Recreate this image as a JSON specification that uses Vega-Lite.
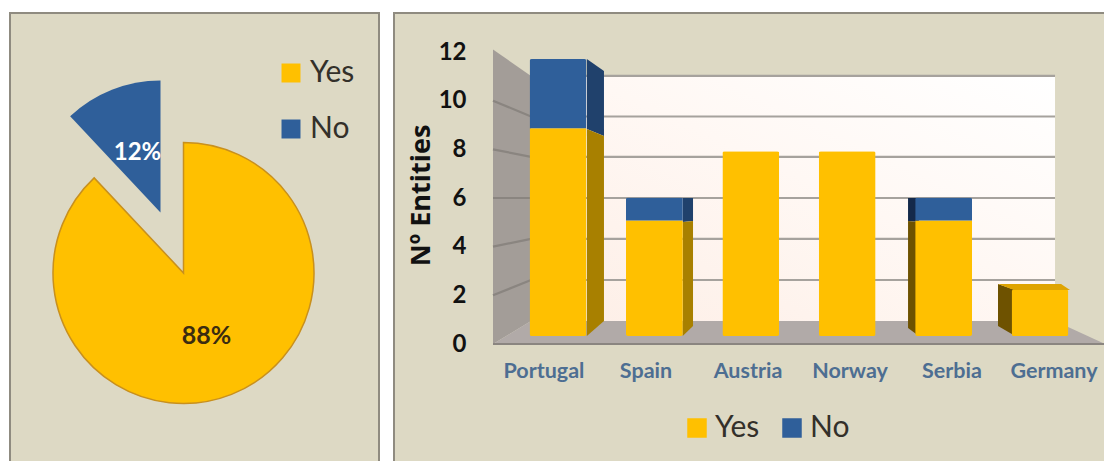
{
  "$schema": "https://vega.github.io/schema/vega-lite/v6.json",
  "background": "#ffffff",
  "padding": {"left": 9, "top": 12, "right": 0, "bottom": 0},
  "spacing": 13,
  "config": {"font": "Lato", "style": {"cell": {"fill": "#ddd9c4", "stroke": "#8f8b80", "strokeWidth": 2}}},
  "datasets": {
    "adoption": [
      {"answer": "Yes", "share": 0.88},
      {"answer": "No", "share": 0.12}
    ],
    "entities": [
      {"country": "Portugal", "answer": "Yes", "count": 9},
      {"country": "Portugal", "answer": "No", "count": 3},
      {"country": "Spain", "answer": "Yes", "count": 5},
      {"country": "Spain", "answer": "No", "count": 1},
      {"country": "Austria", "answer": "Yes", "count": 8},
      {"country": "Norway", "answer": "Yes", "count": 8},
      {"country": "Serbia", "answer": "Yes", "count": 5},
      {"country": "Serbia", "answer": "No", "count": 1},
      {"country": "Germany", "answer": "Yes", "count": 2}
    ],
    "room": [
      {"face": "back", "tone": "back", "slot": 0.373, "high": 11.015, "low": 0.945},
      {"face": "back", "tone": "back", "slot": 5.51, "high": 11.015, "low": 0.945},
      {"face": "wall", "tone": "wall", "slot": 0, "high": 12.1, "low": 0},
      {"face": "wall", "tone": "wall", "slot": 0.373, "high": 11.015, "low": 0.945},
      {"face": "floor", "tone": "floor", "slot": 0, "high": 0, "low": 0},
      {"face": "floor", "tone": "floor", "slot": 0.373, "high": 0.945, "low": 0},
      {"face": "floor", "tone": "floor", "slot": 5.51, "high": 0.945, "low": 0},
      {"face": "floor", "tone": "floor", "slot": 6, "high": 0, "low": 0}
    ],
    "gridlines": [
      {"line": "wall 2", "part": "wall", "slot": 0, "level": 2},
      {"line": "wall 2", "part": "wall", "slot": 0.373, "level": 2.63},
      {"line": "wall 4", "part": "wall", "slot": 0, "level": 4},
      {"line": "wall 4", "part": "wall", "slot": 0.373, "level": 4.32},
      {"line": "wall 6", "part": "wall", "slot": 0, "level": 6},
      {"line": "wall 6", "part": "wall", "slot": 0.373, "level": 6},
      {"line": "wall 8", "part": "wall", "slot": 0, "level": 8},
      {"line": "wall 8", "part": "wall", "slot": 0.373, "level": 7.69},
      {"line": "wall 10", "part": "wall", "slot": 0, "level": 10},
      {"line": "wall 10", "part": "wall", "slot": 0.373, "level": 9.35},
      {"line": "back 2", "part": "back", "slot": 0.373, "level": 2.63},
      {"line": "back 2", "part": "back", "slot": 5.51, "level": 2.63},
      {"line": "back 4", "part": "back", "slot": 0.373, "level": 4.32},
      {"line": "back 4", "part": "back", "slot": 5.51, "level": 4.32},
      {"line": "back 6", "part": "back", "slot": 0.373, "level": 6},
      {"line": "back 6", "part": "back", "slot": 5.51, "level": 6},
      {"line": "back 8", "part": "back", "slot": 0.373, "level": 7.69},
      {"line": "back 8", "part": "back", "slot": 5.51, "level": 7.69},
      {"line": "back 10", "part": "back", "slot": 0.373, "level": 9.35},
      {"line": "back 10", "part": "back", "slot": 5.51, "level": 9.35},
      {"line": "back 12", "part": "back", "slot": 0.373, "level": 11.015},
      {"line": "back 12", "part": "back", "slot": 5.51, "level": 11.015},
      {"line": "edge", "part": "wall", "slot": 0, "level": 0},
      {"line": "edge", "part": "wall", "slot": 6, "level": 0}
    ],
    "extrusion": [
      {"face": "portugal-no", "tone": "noSide", "slot": 0.92, "high": 11.714, "low": 8.837},
      {"face": "portugal-no", "tone": "noSide", "slot": 1.088, "high": 11.221, "low": 8.549},
      {"face": "portugal-yes", "tone": "yesSide", "slot": 0.92, "high": 8.837, "low": 0.329},
      {"face": "portugal-yes", "tone": "yesSide", "slot": 1.088, "high": 8.549, "low": 0.945},
      {"face": "spain-no", "tone": "noSide", "slot": 1.86, "high": 6.0, "low": 5.014},
      {"face": "spain-no", "tone": "noSide", "slot": 1.961, "high": 6.0, "low": 5.055},
      {"face": "spain-yes", "tone": "yesSide", "slot": 1.86, "high": 5.014, "low": 0.329},
      {"face": "spain-yes", "tone": "yesSide", "slot": 1.961, "high": 5.055, "low": 0.74},
      {"face": "serbia-no", "tone": "noShade", "slot": 4.069, "high": 6.0, "low": 5.055},
      {"face": "serbia-no", "tone": "noShade", "slot": 4.175, "high": 6.0, "low": 5.014},
      {"face": "serbia-yes", "tone": "yesShade", "slot": 4.069, "high": 5.055, "low": 0.658},
      {"face": "serbia-yes", "tone": "yesShade", "slot": 4.175, "high": 5.014, "low": 0.329},
      {"face": "germany-side", "tone": "yesShade", "slot": 4.951, "high": 2.466, "low": 0.74},
      {"face": "germany-side", "tone": "yesShade", "slot": 5.12, "high": 2.219, "low": 0.329},
      {"face": "germany-top", "tone": "yesTop", "slot": 4.951, "high": 2.466, "low": 2.466},
      {"face": "germany-top", "tone": "yesTop", "slot": 5.108, "high": 2.466, "low": 2.219},
      {"face": "germany-top", "tone": "yesTop", "slot": 5.569, "high": 2.466, "low": 2.219},
      {"face": "germany-top", "tone": "yesTop", "slot": 5.657, "high": 2.219, "low": 2.219}
    ]
  },
  "resolve": {"scale": {"color": "independent"}, "legend": {"color": "independent"}},
  "hconcat": [
    {
      "width": 369,
      "height": 449,
      "data": {"name": "adoption"},
      "transform": [{"stack": "share", "as": ["share0", "share1"], "groupby": []}],
      "view": {"fill": "#ddd9c4", "stroke": "#8f8b80", "strokeWidth": 2},
      "layer": [
        {
          "mark": {"type": "rule", "opacity": 0},
          "encoding": {
            "x": {"field": "share", "type": "quantitative", "axis": null},
            "y": {"field": "share", "type": "quantitative", "axis": null}
          }
        },
        {
          "transform": [{"filter": "datum.answer === 'Yes'"}],
          "mark": {"type": "arc", "outerRadius": 130.5, "xOffset": -11, "yOffset": 35.5, "stroke": "#c8901e", "strokeWidth": 1.5},
          "encoding": {
            "theta": {"field": "share0", "type": "quantitative", "scale": {"domain": [0, 1]}},
            "theta2": {"field": "share1"},
            "color": {
              "field": "answer", "type": "nominal",
              "scale": {"domain": ["Yes", "No"], "range": ["#ffc000", "#2f5f9a"]},
              "legend": {
                "title": null, "orient": "none", "legendX": 266, "legendY": 45,
                "symbolType": "square", "symbolSize": 360, "labelFontSize": 30, "labelColor": "#33302a",
                "labelOffset": 4, "rowPadding": 26, "symbolStrokeWidth": 0, "padding": 0
              }
            }
          }
        },
        {
          "transform": [{"filter": "datum.answer === 'No'"}],
          "mark": {"type": "arc", "outerRadius": 132, "xOffset": -34, "yOffset": -25},
          "encoding": {
            "theta": {"field": "share0", "type": "quantitative", "scale": {"domain": [0, 1]}},
            "theta2": {"field": "share1"},
            "color": {"value": "#2f5f9a"}
          }
        },
        {
          "transform": [{"filter": "datum.answer === 'Yes'"}],
          "mark": {"type": "text", "fontSize": 25, "fontWeight": "bold", "color": "#3b2c10", "xOffset": 12, "yOffset": 98.5},
          "encoding": {"text": {"field": "share", "type": "quantitative", "format": ".0%"}}
        },
        {
          "transform": [{"filter": "datum.answer === 'No'"}],
          "mark": {"type": "text", "fontSize": 24, "fontWeight": "bold", "color": "#ffffff", "xOffset": -57, "yOffset": -84.5},
          "encoding": {"text": {"field": "share", "type": "quantitative", "format": ".0%"}}
        }
      ]
    },
    {
      "width": 711,
      "height": 449,
      "resolve": {
        "scale": {"x": "independent", "y": "independent", "color": "independent"},
        "axis": {"x": "independent", "y": "independent"}
      },
      "layer": [
        {
          "data": {"name": "entities"},
          "mark": {"type": "bar", "opacity": 0},
          "encoding": {
            "x": {
              "field": "country", "type": "nominal",
              "sort": ["Portugal", "Spain", "Austria", "Norway", "Serbia", "Germany"],
              "scale": {"range": [99, 711], "padding": 0},
              "axis": {
                "title": null, "orient": "bottom", "offset": -118, "domain": false, "ticks": false,
                "labelAngle": 0, "labelFontSize": 21.5, "labelColor": "#4d6e92", "labelPadding": 16,
                "labelFontWeight": "bold", "grid": false
              }
            }
          }
        },
        {
          "data": {"name": "room"},
          "transform": [{"filter": "datum.tone === 'back'"}],
          "mark": {
            "type": "area", "orient": "vertical",
            "fill": {"gradient": "linear", "x1": 0, "y1": 1, "x2": 1, "y2": 0,
              "stops": [{"offset": 0, "color": "#fdeee6"}, {"offset": 0.55, "color": "#fff8f4"}, {"offset": 1, "color": "#ffffff"}]}
          },
          "encoding": {
            "x": {"field": "slot", "type": "quantitative", "scale": {"domain": [0, 6], "range": [99, 711], "nice": false, "zero": false}, "axis": null},
            "y": {"field": "high", "type": "quantitative", "stack": null, "scale": {"domain": [0, 12], "range": [331, 39], "nice": false}, "axis": null},
            "y2": {"field": "low"}
          }
        },
        {
          "data": {"name": "room"},
          "transform": [{"filter": "datum.tone !== 'back'"}],
          "mark": {"type": "area", "orient": "vertical"},
          "encoding": {
            "x": {"field": "slot", "type": "quantitative", "scale": {"domain": [0, 6], "range": [99, 711], "nice": false, "zero": false}, "axis": null},
            "y": {
              "field": "high", "type": "quantitative", "stack": null,
              "scale": {"domain": [0, 12], "range": [331, 39], "nice": false},
              "axis": {
                "title": "Nº Entities", "orient": "left", "offset": -99, "values": [0, 2, 4, 6, 8, 10, 12],
                "domain": false, "ticks": false, "grid": false, "labelPadding": 27, "labelFontSize": 24,
                "labelColor": "#111111", "labelFontWeight": "bold",
                "titleFont": "Open Sans", "titleFontSize": 27, "titleFontWeight": "bold", "titleColor": "#111111", "titleX": -58, "titleY": 182
              }
            },
            "y2": {"field": "low"},
            "detail": {"field": "face"},
            "color": {"field": "tone", "type": "nominal", "scale": {"domain": ["wall", "floor"], "range": ["#a39d98", "#b1aaa8"]}, "legend": null}
          }
        },
        {
          "data": {"name": "gridlines"},
          "mark": {"type": "line", "strokeWidth": 2.2},
          "encoding": {
            "x": {"field": "slot", "type": "quantitative", "scale": {"domain": [0, 6], "range": [99, 711], "nice": false, "zero": false}, "axis": null},
            "y": {"field": "level", "type": "quantitative", "scale": {"domain": [0, 12], "range": [331, 39], "nice": false}, "axis": null},
            "detail": {"field": "line"},
            "color": {"field": "part", "type": "nominal", "scale": {"domain": ["back", "wall"], "range": ["#a6a29d", "#8a8580"]}, "legend": null}
          }
        },
        {
          "data": {"name": "extrusion"},
          "mark": {"type": "area", "orient": "vertical"},
          "encoding": {
            "x": {"field": "slot", "type": "quantitative", "scale": {"domain": [0, 6], "range": [99, 711], "nice": false, "zero": false}, "axis": null},
            "y": {"field": "high", "type": "quantitative", "stack": null, "scale": {"domain": [0, 12], "range": [331, 39], "nice": false}, "axis": null},
            "y2": {"field": "low"},
            "detail": {"field": "face"},
            "color": {
              "field": "tone", "type": "nominal",
              "scale": {"domain": ["yesSide", "noSide", "yesShade", "noShade", "yesTop"], "range": ["#a88000", "#20416c", "#6e5200", "#14294a", "#dfa400"]},
              "legend": null
            }
          }
        },
        {
          "data": {"name": "entities"},
          "mark": {"type": "bar", "cornerRadius": 2},
          "encoding": {
            "x": {
              "field": "country", "type": "nominal",
              "sort": ["Portugal", "Spain", "Austria", "Norway", "Serbia", "Germany"],
              "scale": {"range": [115.8, 694.2], "paddingInner": 0.41, "paddingOuter": 0.205},
              "axis": null
            },
            "y": {"field": "count", "type": "quantitative", "stack": "zero", "scale": {"domain": [0, 12], "range": [323, 46], "nice": false}, "axis": null},
            "order": {"field": "answer", "sort": "descending"},
            "color": {
              "field": "answer", "type": "nominal",
              "scale": {"domain": ["Yes", "No"], "range": ["#ffc000", "#2f5f9a"]},
              "legend": {
                "title": null, "orient": "none", "direction": "horizontal", "legendX": 288, "legendY": 400,
                "symbolType": "square", "symbolSize": 380, "labelFontSize": 30, "labelColor": "#33302a",
                "labelOffset": 3, "columnPadding": 17, "symbolStrokeWidth": 0, "padding": 0
              }
            }
          }
        }
      ]
    }
  ]
}
